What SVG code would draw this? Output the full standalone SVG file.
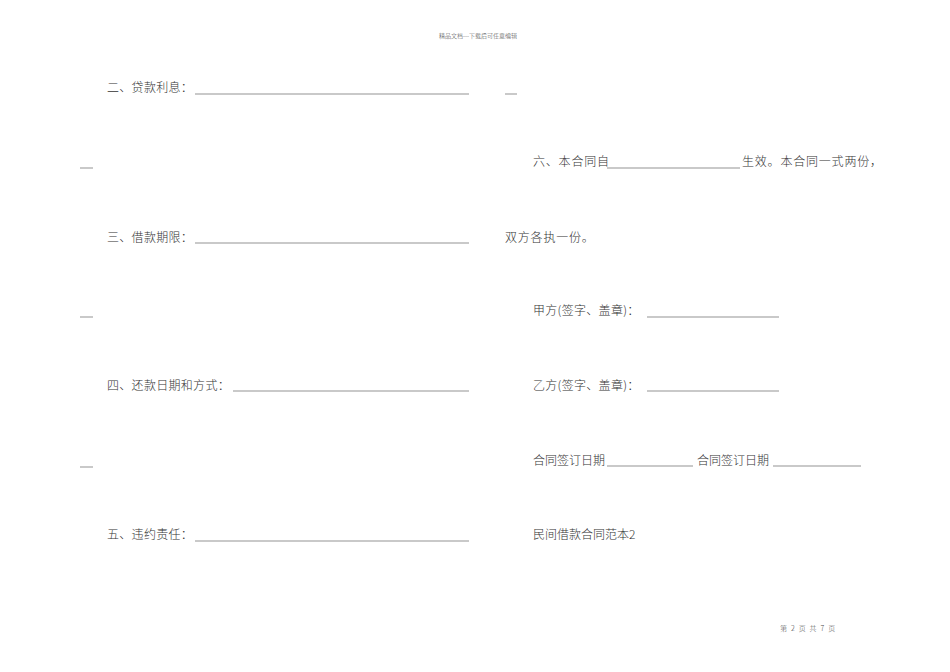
<svg xmlns="http://www.w3.org/2000/svg" width="950" height="672" viewBox="0 0 950 672">
<style>
text{font-family:"Noto Sans CJK SC","Liberation Serif",serif;font-size:12px;fill:#333;font-weight:300}
.s{font-size:6px;fill:#444}
.f{font-size:7px;fill:#444}
line{stroke:#666;stroke-width:0.7}
</style>
<rect width="950" height="672" fill="#fff"/>
<text class="s" x="478" y="38" text-anchor="middle">精品文档---下载后可任意编辑</text>
<g id="left">
<text x="107" y="92" letter-spacing="0.3">二、贷款利息：</text>
<line x1="195" y1="94" x2="469" y2="94"/>
<line x1="80" y1="168" x2="93" y2="168"/>
<text x="107" y="242" letter-spacing="0.3">三、借款期限：</text>
<line x1="195" y1="243" x2="469" y2="243"/>
<line x1="80" y1="317" x2="93" y2="317"/>
<text x="107" y="390" letter-spacing="0.3">四、还款日期和方式：</text>
<line x1="233" y1="391" x2="469" y2="391"/>
<line x1="80" y1="467" x2="93" y2="467"/>
<text x="107" y="539" letter-spacing="0.3">五、违约责任：</text>
<line x1="195" y1="541" x2="469" y2="541"/>
</g>
<g id="right">
<line x1="505" y1="94" x2="517" y2="94"/>
<text x="533" y="166" letter-spacing="0.8">六、本合同自</text>
<line x1="607" y1="168" x2="740" y2="168"/>
<text x="742" y="166" letter-spacing="0.8">生效。本合同一式两份，</text>
<text x="505" y="242" letter-spacing="0.8">双方各执一份。</text>
<text x="533" y="315" letter-spacing="0.3">甲方(签字、盖章)：</text>
<line x1="647" y1="317" x2="779" y2="317"/>
<text x="533" y="390" letter-spacing="0.3">乙方(签字、盖章)：</text>
<line x1="647" y1="391" x2="779" y2="391"/>
<text x="533" y="465">合同签订日期</text>
<line x1="607" y1="466" x2="693" y2="466"/>
<text x="697" y="465">合同签订日期</text>
<line x1="773" y1="466" x2="861" y2="466"/>
<text x="533" y="539">民间借款合同范本2</text>
</g>
<text class="f" x="780" y="631" letter-spacing="1.2">第 2 页 共 7 页</text>
</svg>
